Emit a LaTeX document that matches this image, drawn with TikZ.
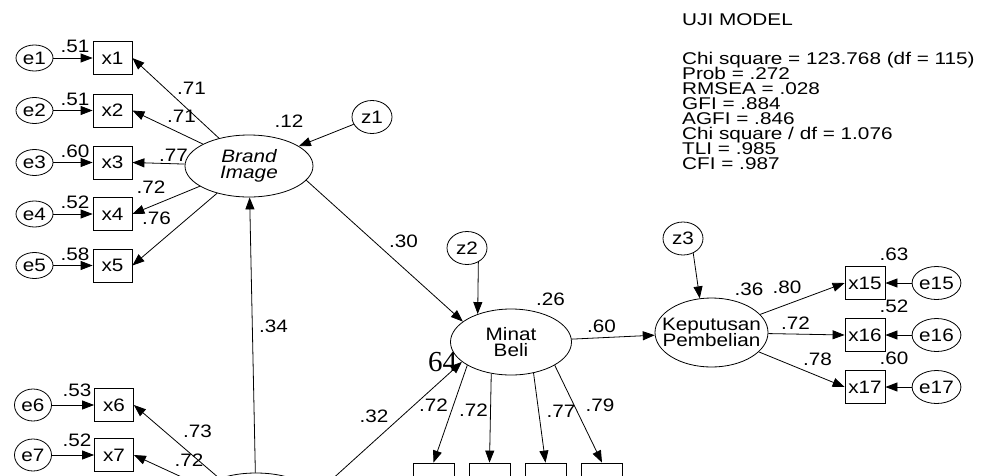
\documentclass[tikz,border=0pt]{standalone}
\usepackage{fontspec}
\setmainfont[FakeStretch=1.15]{Liberation Sans}
\newfontfamily\fitfont[FakeStretch=1.22]{Liberation Sans}
\newfontfamily\oddserif{Liberation Serif}
\setlength{\lineskiplimit}{-50pt}
\usetikzlibrary{shapes.geometric,arrows.meta}

\begin{document}
\begin{tikzpicture}[x=1pt,y=-1pt,
    font=\fontsize{18}{16}\selectfont,
    obs/.style={draw,line width=0.8pt,minimum width=39pt,minimum height=33pt,inner sep=0pt},
    err/.style={draw,ellipse,line width=0.8pt,minimum width=37pt,minimum height=26pt,inner sep=0pt},
    dist/.style={draw,ellipse,line width=0.8pt,minimum width=40pt,minimum height=33pt,inner sep=0pt},
    lat/.style={draw,ellipse,line width=0.8pt,inner sep=0pt,align=center},
    coef/.style={inner sep=0pt},
    arr/.style={line width=0.8pt,-{Triangle[length=12pt,width=9pt]}}]

  \useasboundingbox (0,0) rectangle (989,475);
  \clip (0,0) rectangle (989,475);

  % stray number left in the output
  \node[inner sep=0pt,font=\oddserif\fontsize{29}{29}\selectfont] (stray) at (442.5,362.5) {64};

  % latent variables
  \node[lat,minimum width=128pt,minimum height=62pt,font=\fontsize{18}{16}\selectfont\itshape] (bi) at (249,166) {Brand\\Image};
  \node[lat,minimum width=121pt,minimum height=66pt] (mb) at (511,342) {Minat\\Beli};
  \node[lat,minimum width=113pt,minimum height=69pt,inner xsep=-12pt] (kp) at (711.5,332.5) {Keputusan\\Pembelian};
  \node[lat,minimum width=128pt,minimum height=62pt] (lv) at (256,504) {};

  % disturbances
  \node[dist] (z1) at (372,117) {z1};
  \node[dist] (z2) at (467,248) {z2};
  \node[dist] (z3) at (683,238.5) {z3};

  % indicators of Brand Image
  \foreach \i/\y/\r in {1/58/.51,2/110.5/.51,3/162.5/.60,4/214/.52,5/265.5/.58}{
    \node[err] (e\i) at (34.5,\y) {e\i};
    \node[obs] (x\i) at (112.5,\y) {x\i};
    \node[coef] (r\i) at (75,\y-11.5) {\r};
    \draw[arr] (e\i) -- (x\i);
    \draw[arr] (bi) -- (x\i.east);
  }

  % indicators of the lower construct
  \foreach \i/\y/\r in {6/405/.53,7/455/.52}{
    \node[err,minimum height=32pt] (e\i) at (33,\y) {e\i};
    \node[obs] (x\i) at (114,\y) {x\i};
    \node[coef] (r\i) at (77,\y-14.5) {\r};
    \draw[arr] (e\i) -- (x\i);
  }

  % indicators of Keputusan Pembelian
  \foreach \i/\y/\r in {15/283/.63,16/335/.52,17/387/.60}{
    \node[obs,minimum width=40pt] (x\i) at (865,\y) {x\i};
    \node[err,minimum height=33pt] (e\i) at (936.5,\y) {e\i};
    \node[coef] (r\i) at (894,\y-29) {\r};
    \draw[arr] (e\i) -- (x\i);
    \draw[arr] (kp) -- (x\i.west);
  }

  % indicators of Minat Beli
  \node[obs,minimum width=41pt] (mb1) at (433.5,479.5) {};
  \node[obs,minimum width=41pt] (mb2) at (489.5,479.5) {};
  \node[obs,minimum width=41pt] (mb3) at (545.5,479.5) {};
  \node[obs,minimum width=41pt] (mb4) at (602,479.5) {};
  \draw[arr] (mb.208) -- (mb1.north);
  \draw[arr] (mb.238) -- (mb2.north);
  \draw[arr] (mb.306) -- (mb3.north);
  \draw[arr] (mb.332) -- (mb4.north);

  % structural paths
  \draw[arr] (z1) -- (bi);
  \draw[arr] (z2.309) -- (mb.140);
  \draw[arr] (z3.305) -- (kp.109);
  \draw[arr] (bi.346) -- (mb.157);
  \draw[arr] (mb) -- (kp);
  \draw[arr] (lv) -- (bi);
  \draw[arr] (lv.10) -- (mb.202);
  \draw[arr] (lv.145) -- (x6.east);
  \draw[arr] (lv.162) -- (x7.east);

  % estimates
  \node[coef] (lx1) at (191.5,88.5) {.71};
  \node[coef] (lx2) at (181.5,116) {.71};
  \node[coef] (lx3) at (173.5,155) {.77};
  \node[coef] (lx4) at (151,187.5) {.72};
  \node[coef] (lx5) at (156.5,218.5) {.76};
  \node[coef] (rbi) at (289,121.5) {.12};
  \node[coef] (lx6) at (197.5,431.5) {.73};
  \node[coef] (lx7) at (189,460) {.72};
  \node[coef] (lvbi) at (273.5,326.5) {.34};
  \node[coef] (lvmb) at (374,416.5) {.32};
  \node[coef] (bimb) at (403.5,241.5) {.30};
  \node[coef] (rmb) at (550.5,299) {.26};
  \node[coef] (mbkp) at (601.5,326.5) {.60};
  \node[coef] (lmb1) at (433.5,405) {.72};
  \node[coef] (lmb2) at (473.5,410) {.72};
  \node[coef] (lmb3) at (561,411.5) {.77};
  \node[coef] (lmb4) at (600,405) {.79};
  \node[coef] (rkp) at (749,289) {.36};
  \node[coef] (lx15) at (787,287) {.80};
  \node[coef] (lx16) at (795.5,323) {.72};
  \node[coef] (lx17) at (817.5,359.5) {.78};

  % fit indices
  \node[coef,anchor=north west,font=\fitfont\fontsize{17}{15}\selectfont] (title) at (682,13.5) {UJI MODEL};
  \node[coef,anchor=north west,align=left,font=\fitfont\fontsize{17}{15}\selectfont] (fit) at (682,52) {Chi square = 123.768 (df = 115)\\Prob = .272\\RMSEA = .028\\GFI = .884\\AGFI = .846\\Chi square / df = 1.076\\TLI = .985\\CFI = .987};

\end{tikzpicture}
\end{document}
